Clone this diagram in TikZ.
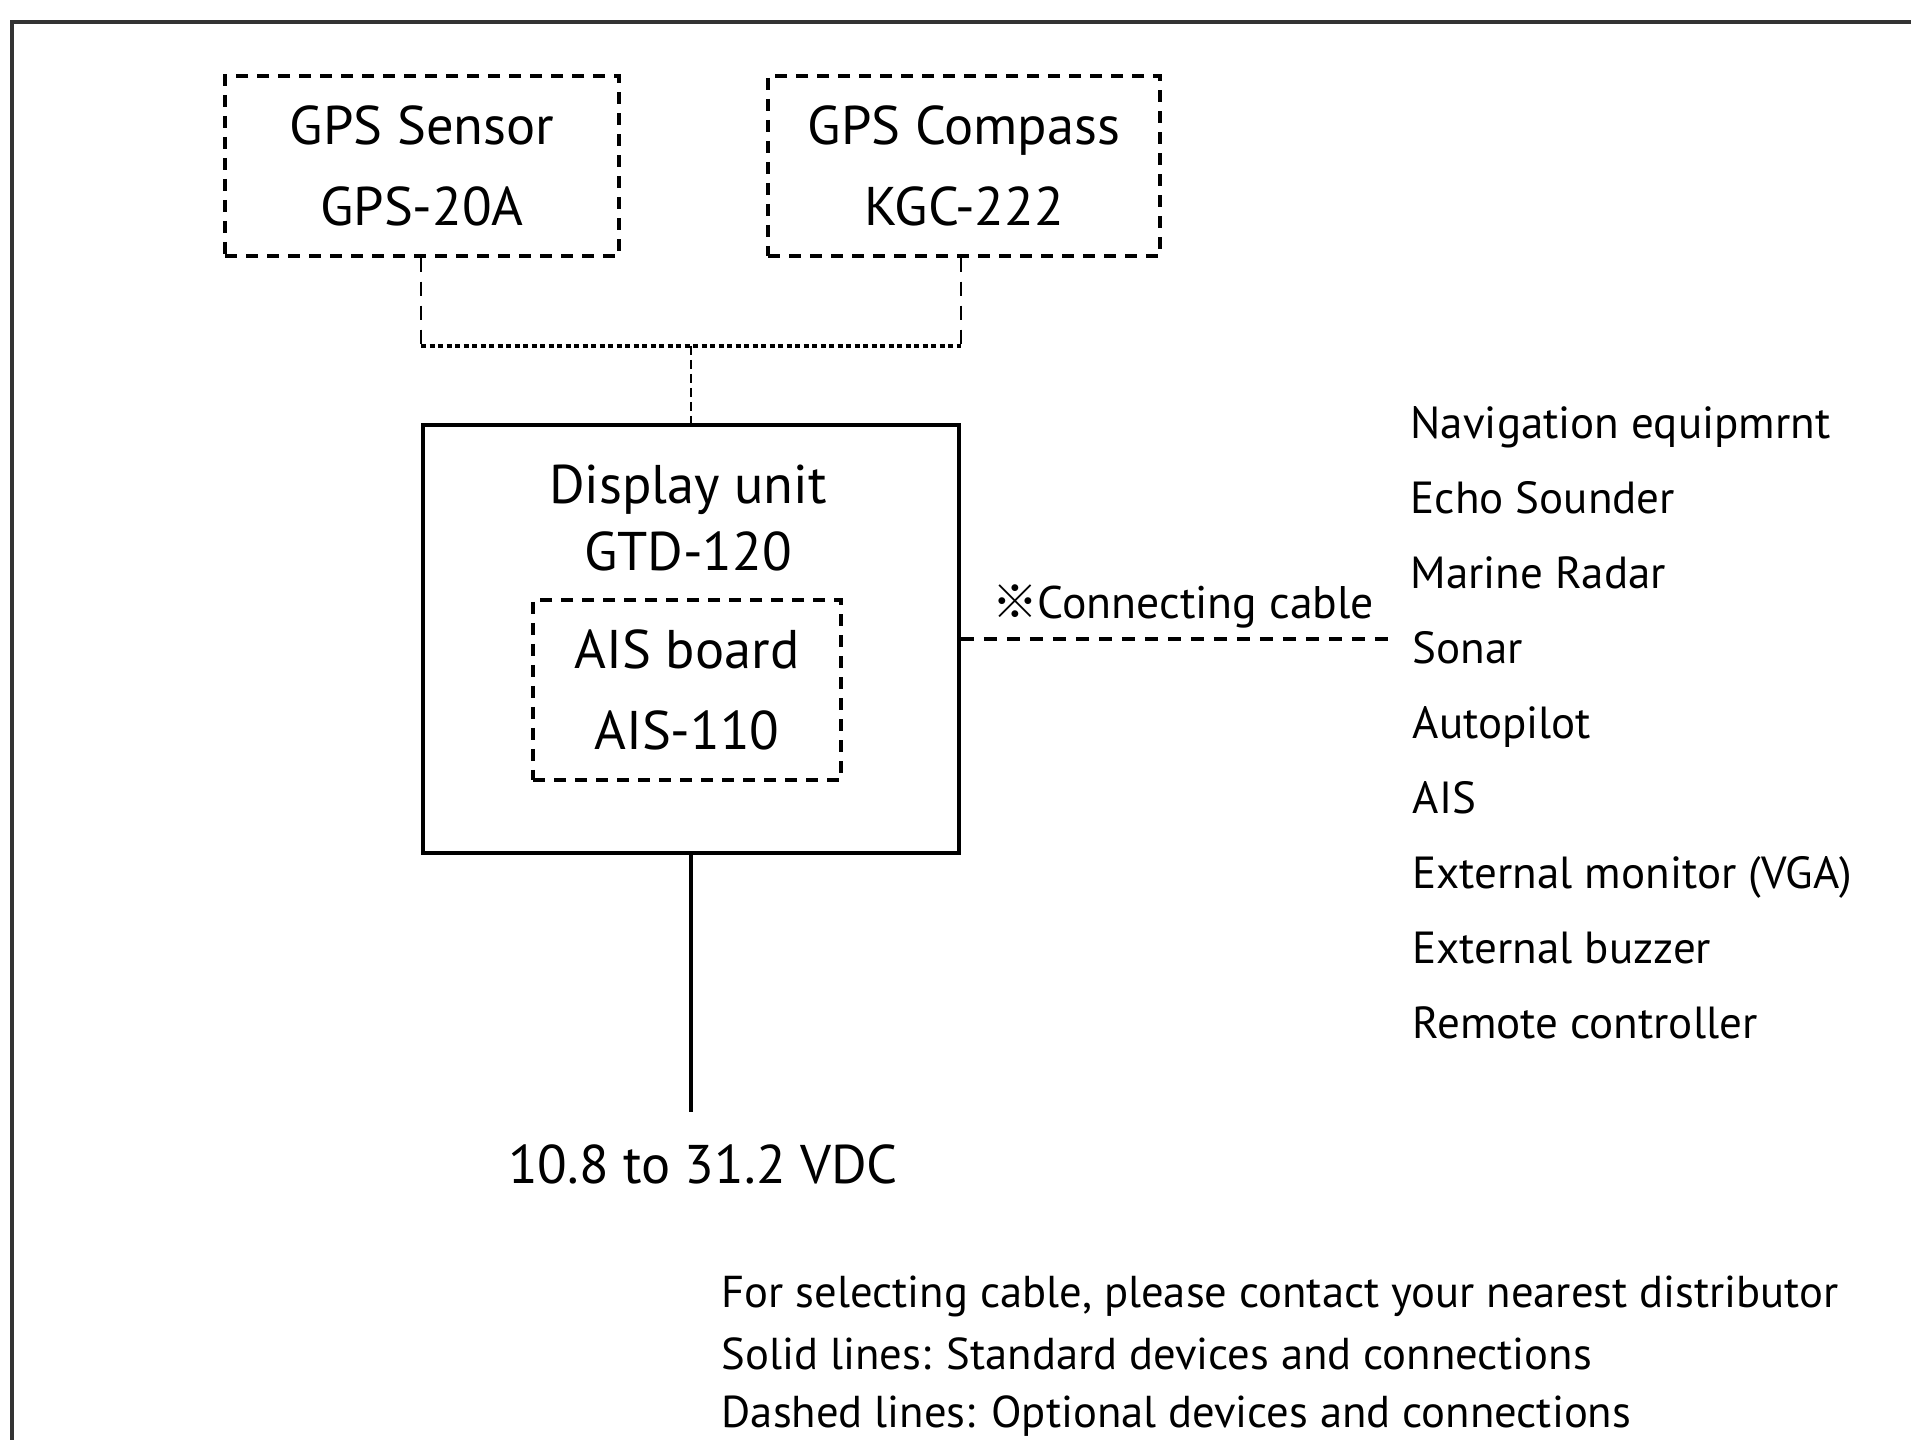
\documentclass[tikz,border=0pt]{standalone}
\usepackage{fontspec}
\setmainfont{PT Sans}
\newfontfamily\cjkfont{Noto Sans CJK JP}
\usetikzlibrary{positioning}

\tikzset{
  optbox/.style={draw, line width=0.9pt, dash pattern=on 1.2mm off 0.9mm, align=center, inner sep=0pt},
  unitbox/.style={draw, line width=1.1pt},
  boxtext/.style={font=\fontsize{15.5}{22.8}\selectfont, align=center},
  listtext/.style={font=\fontsize{12.8}{14}\selectfont, anchor=base west, inner sep=0pt},
  notetext/.style={font=\fontsize{12.7}{14}\selectfont, anchor=base west, inner sep=0pt},
  gpsline/.style={line width=0.5pt, dash pattern=on 1.4mm off 1mm},
  dotline/.style={line width=0.9pt, dash pattern=on 0.5mm off 0.35mm},
  midline/.style={line width=0.8pt, dash pattern=on 0.9mm off 0.5mm},
  cableline/.style={line width=0.9pt, dash pattern=on 1.3mm off 1mm}
}

\begin{document}
\begin{tikzpicture}[x=0.1mm,y=-0.1mm]
\useasboundingbox (0,0) rectangle (1911,1440);
% Frame
\draw[line width=0.9pt, black!80] (12,1440) -- (12,22) -- (1911,22);

% GPS sources
\node[optbox, boxtext, minimum width=39.4mm, minimum height=18mm] (sensor) at (422,166) {GPS Sensor\\GPS-20A};
\node[optbox, boxtext, minimum width=39.2mm, minimum height=18mm] (compass) at (964,166) {GPS Compass\\KGC-222};

% Display unit
\node[unitbox, minimum width=53.6mm, minimum height=42.8mm] (display) at (691,639) {};
\node[boxtext, font=\fontsize{15.5}{19}\selectfont] (displaytext) at (688,518) {Display unit\\GTD-120};
\node[optbox, boxtext, minimum width=30.8mm, minimum height=18mm] (aisboard) at (687,690) {AIS board\\AIS-110};

% GPS wiring
\coordinate (join) at (691,346);
\draw[gpsline] (sensor.south -| display.west) -- (display.west |- join);
\draw[gpsline] (compass.south -| display.east) -- (display.east |- join);
\draw[dotline] (display.west |- join) -- (display.east |- join);
\draw[midline] (join) -- (display.north);

% Power supply
\node[boxtext] (vdc) at (703,1164) {10.8 to 31.2 VDC};
\path (display.south) ++(0,257) coordinate (supply);
\draw[line width=1.1pt] (display.south) -- (supply);

% Navigation equipment
\node[listtext] (navi) at (1410,439) {Navigation equipmrnt};
\node[listtext] (echo) at (1410,514) {Echo Sounder};
\node[listtext] (radar) at (1410,589) {Marine Radar};
\node[listtext] (sonar) at (1412,664) {Sonar};
\node[listtext] (autopilot) at (1412,739) {Autopilot};
\node[listtext] (ais) at (1412,814) {AIS};
\node[listtext] (monitor) at (1412,889) {External monitor (VGA)};
\node[listtext] (buzzer) at (1412,964) {External buzzer};
\node[listtext] (remote) at (1412,1039) {Remote controller};

% Connecting cable
\draw[cableline] (display.east) -- ([xshift=-2.2mm]display.east -| sonar.west);
\node[font=\fontsize{13}{14}\selectfont] (cablelabel) at (1183,606) {{\cjkfont ※}Connecting cable};

% Notes
\node[notetext] (note1) at (721,1308) {For selecting cable, please contact your nearest distributor};
\node[notetext] (note2) at (721,1370) {Solid lines: Standard devices and connections};
\node[notetext] (note3) at (721,1428) {Dashed lines: Optional devices and connections};
\end{tikzpicture}
\end{document}
